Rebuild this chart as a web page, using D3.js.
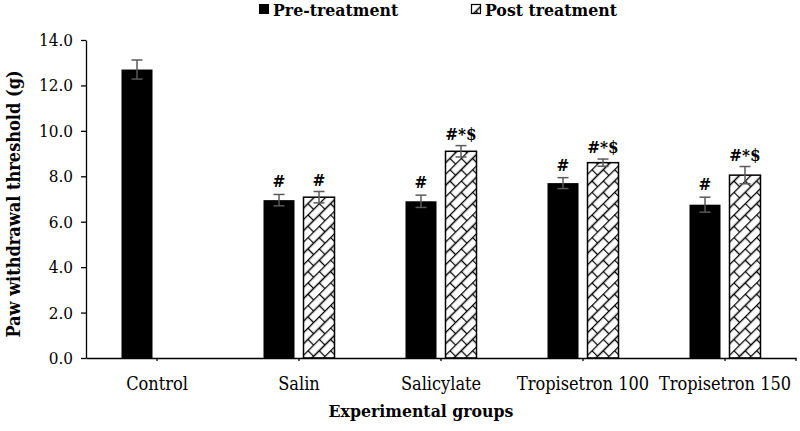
<!DOCTYPE html>
<html><head><meta charset="utf-8">
<script src="https://cdn.jsdelivr.net/npm/d3@7"></script>
<style>body{margin:0;background:#fff}</style>
</head><body>
<svg id="c" width="800" height="431"></svg>
<script>
const categories = ["Control","Salin","Salicylate","Tropisetron 100","Tropisetron 150"];
const preValues  = [12.7, 6.95, 6.9, 7.7, 6.75];
const preErrors  = [0.42, 0.25, 0.27, 0.24, 0.33];
const preLabels  = ["", "#", "#", "#", "#"];
const postValues = [null, 7.08, 9.1, 8.6, 8.05];
const postErrors = [null, 0.25, 0.25, 0.16, 0.38];
const postLabels = ["", "#", "#*$", "#*$", "#*$"];
const yTicks = [0,2,4,6,8,10,12,14];
const seriesNames = ["Pre-treatment","Post treatment"];

const svg = d3.select("#c");
const FONT = "'DejaVu Serif Condensed','DejaVu Serif',serif";

const defs = svg.append("defs");
const pat = defs.append("pattern").attr("id","brick").attr("patternUnits","userSpaceOnUse")
  .attr("width",16).attr("height",16).attr("patternTransform","rotate(-45)");
pat.append("rect").attr("width",16).attr("height",16).attr("fill","#fff");
pat.append("path").attr("d","M0,0.5H16M0,8.5H16M0.5,0.5V8.5M8.5,8.5V16")
  .attr("stroke","#000").attr("stroke-width",1.3).attr("fill","none");

const x0 = d3.scaleBand().domain(categories).range([86,796]).padding(0);
const x1 = d3.scaleBand().domain(["pre","post"]).range([0,x0.bandwidth()]).paddingInner(0.225).paddingOuter(0.8875);
const y = d3.scaleLinear().domain([0,14]).range([358,40]);

// y axis
const yAxis = d3.axisLeft(y).tickValues(yTicks).tickFormat(d3.format(".1f")).tickSize(5).tickSizeOuter(0);
const gy = svg.append("g").attr("transform","translate(86,0)").call(yAxis);
gy.select(".domain").attr("stroke","#000").attr("stroke-width",1.3);
gy.selectAll(".tick line").attr("stroke","#000").attr("stroke-width",1.3);
gy.selectAll(".tick text").attr("font-family",FONT).attr("font-size",17).attr("fill","#000").attr("x",-13);

// bars
const groups = svg.append("g").selectAll("g").data(categories).join("g")
  .attr("transform",d=>`translate(${x0(d)},0)`);
groups.append("rect")
  .attr("x",x1("pre")).attr("width",x1.bandwidth())
  .attr("y",(d,i)=>y(preValues[i])).attr("height",(d,i)=>y(0)-y(preValues[i]))
  .attr("fill","#000");
groups.filter((d,i)=>postValues[i]!=null).append("rect")
  .attr("x",x1("post")).attr("width",x1.bandwidth())
  .attr("y",d=>y(postValues[categories.indexOf(d)]))
  .attr("height",d=>y(0)-y(postValues[categories.indexOf(d)]))
  .attr("fill","url(#brick)").attr("stroke","#000").attr("stroke-width",1.5);

// error bars
function errBar(g, cx, v, e){
  const c="#5a5a5a", w=5.5;
  g.append("line").attr("x1",cx).attr("x2",cx).attr("y1",y(v+e)).attr("y2",y(v-e)).attr("stroke",c).attr("stroke-width",1.5);
  g.append("line").attr("x1",cx-w).attr("x2",cx+w).attr("y1",y(v+e)).attr("y2",y(v+e)).attr("stroke",c).attr("stroke-width",1.5);
  g.append("line").attr("x1",cx-w).attr("x2",cx+w).attr("y1",y(v-e)).attr("y2",y(v-e)).attr("stroke",c).attr("stroke-width",1.5);
}
const eg = svg.append("g");
categories.forEach((cat,i)=>{
  const cp = x0(cat)+x1("pre")+x1.bandwidth()/2;
  errBar(eg, cp, preValues[i], preErrors[i]);
  if(preLabels[i]) eg.append("text").attr("x",cp).attr("y",y(preValues[i]+preErrors[i])-7)
    .attr("text-anchor","middle").attr("font-family",FONT).attr("font-weight","bold").attr("font-size",17).text(preLabels[i]);
  if(postValues[i]!=null){
    const cq = x0(cat)+x1("post")+x1.bandwidth()/2;
    errBar(eg, cq, postValues[i], postErrors[i]);
    eg.append("text").attr("x",cq).attr("y",y(postValues[i]+postErrors[i])-6)
      .attr("text-anchor","middle").attr("font-family",FONT).attr("font-weight","bold").attr("font-size",17).text(postLabels[i]);
  }
});

// x axis
const xAxis = d3.axisBottom(x0).tickSize(3).tickSizeOuter(0);
const gx = svg.append("g").attr("transform","translate(0,358)").call(xAxis);
gx.select(".domain").attr("stroke","#000").attr("stroke-width",1.3);
gx.selectAll(".tick line").attr("stroke","#000").attr("stroke-width",1.3);
gx.selectAll(".tick text").attr("font-family",FONT).attr("font-size",18).attr("fill","#000").attr("y",19);
gx.append("line").attr("x1",796).attr("x2",796).attr("y1",0).attr("y2",3).attr("stroke","#000").attr("stroke-width",1.3);

// axis titles
svg.append("text").attr("x",421).attr("y",417).attr("text-anchor","middle")
  .attr("font-family",FONT).attr("font-weight","bold").attr("font-size",17.5).text("Experimental groups");
svg.append("text").attr("transform","translate(20,204) rotate(-90)").attr("text-anchor","middle")
  .attr("font-family",FONT).attr("font-weight","bold").attr("font-size",18).text("Paw withdrawal threshold (g)");

// legend
const lg = svg.append("g");
lg.append("rect").attr("x",259).attr("y",4).attr("width",10).attr("height",10).attr("fill","#000");
lg.append("text").attr("x",273).attr("y",16).attr("font-family",FONT).attr("font-weight","bold").attr("font-size",17.5).text(seriesNames[0]);
lg.append("rect").attr("x",471.5).attr("y",4.5).attr("width",9).attr("height",9).attr("fill","url(#brick)").attr("stroke","#000").attr("stroke-width",1.2);
lg.append("text").attr("x",485).attr("y",16).attr("font-family",FONT).attr("font-weight","bold").attr("font-size",17.5).text(seriesNames[1]);
</script>
</body></html>
